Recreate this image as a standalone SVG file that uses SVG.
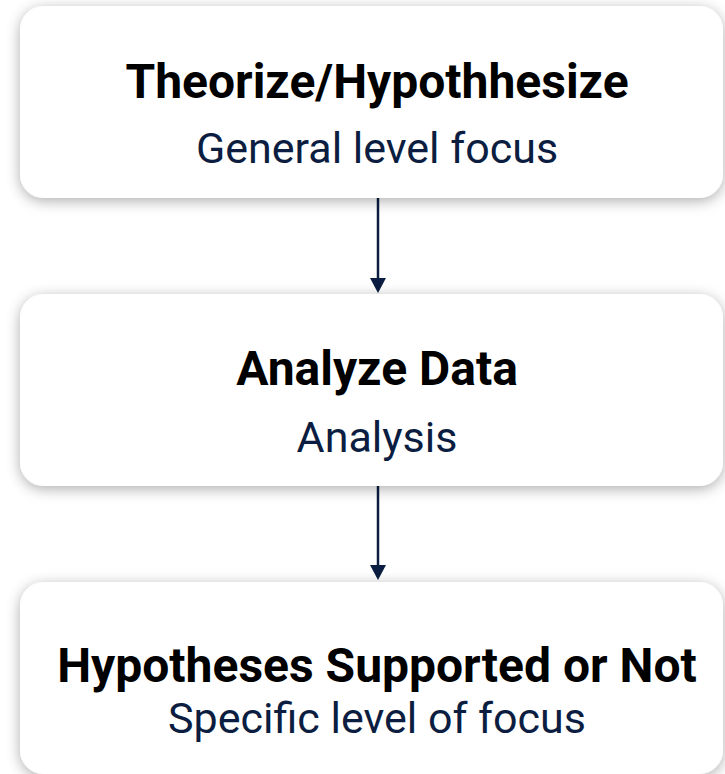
<svg xmlns="http://www.w3.org/2000/svg" width="725" height="774" viewBox="0 0 725 774">
  <style>
    .card { fill: #ffffff; filter: url(#shadow); }
    .title { font-family: Roboto, "Liberation Sans", sans-serif; font-weight: 700; font-size: 48px; fill: #000000; text-anchor: middle; }
    .sub { font-family: Roboto, "Liberation Sans", sans-serif; font-weight: 400; font-size: 43px; fill: #0b1d40; text-anchor: middle; }
    .link { stroke: #0b1d40; stroke-width: 2.5; fill: none; }
    .tip { fill: #0b1d40; }
  </style>
  <defs>
    <filter id="shadow" x="-10%" y="-25%" width="120%" height="150%">
      <feDropShadow dx="0" dy="3" stdDeviation="7" flood-color="#000000" flood-opacity="0.32"/>
    </filter>
  </defs>
  <rect width="725" height="774" fill="#ffffff"/>

  <g id="connectors">
    <line class="link" x1="378" y1="198" x2="378" y2="280"/>
    <path class="tip" d="M370,278 L386,278 L378,293 Z"/>
    <line class="link" x1="378" y1="486" x2="378" y2="567"/>
    <path class="tip" d="M370,565 L386,565 L378,580 Z"/>
  </g>

  <g id="theorize">
    <rect class="card" x="20" y="6" width="703" height="192" rx="24"/>
    <text class="title" x="377" y="98">Theorize/Hypothhesize</text>
    <text class="sub" x="377" y="163">General level focus</text>
  </g>

  <g id="analyze">
    <rect class="card" x="20" y="294" width="703" height="192" rx="24"/>
    <text class="title" x="377" y="385">Analyze Data</text>
    <text class="sub" x="377" y="452">Analysis</text>
  </g>

  <g id="supported">
    <rect class="card" x="20" y="582" width="703" height="192" rx="24"/>
    <text class="title" x="377" y="682">Hypotheses Supported or Not</text>
    <text class="sub" x="377" y="733">Specific level of focus</text>
  </g>
</svg>
